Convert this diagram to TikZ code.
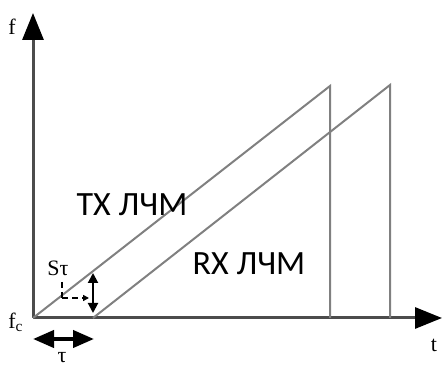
\documentclass[tikz,border=0pt]{standalone}
\usepackage{fontspec}
\setmainfont{Liberation Serif}
\newfontfamily\chirpfont{Carlito}
\usetikzlibrary{arrows.meta}
\begin{document}
\begin{tikzpicture}[x=0.5pt, y=0.5pt,
    axis/.style={line width=1.5pt, draw=black!70, -{Triangle[length=13.5pt, width=10.5pt, color=black]}},
    chirp/.style={line width=1pt, draw=black!50},
    chirplabel/.style={font=\chirpfont\fontsize{17}{20}\selectfont},
    sym/.style={font=\fontsize{11}{13}\selectfont}]

        \useasboundingbox (0,0) rectangle (442,367);

        % Draw the axes
        \coordinate (O) at (33,49);
        \coordinate (ytop) at (33,354);
        \coordinate (xend) at (442,49);
        \draw[axis] (O) -- (ytop);
        \draw[axis] (O) -- (xend);
        \node[sym] (flabel) at (12,340) {f};
        \node[sym] (tlabel) at (434,22) {t};
        \node[sym] (fclabel) at (16,45) {f\textsubscript{c}};

        % Draw the transmitted chirp (TX)
        \coordinate (txtop) at (330,281);
        \coordinate (txend) at (330,49);
        \draw[chirp] (O) -- (txtop) -- (txend);
        \node[chirplabel] (txlabel) at (132,162) {TX ЛЧМ};

        % Draw the received chirp (RX), delayed by tau
        \coordinate (rxstart) at (93,49);
        \coordinate (rxtop) at (390,282);
        \coordinate (rxend) at (390,49);
        \draw[chirp] (rxstart) -- (rxtop) -- (rxend);
        \node[chirplabel] (rxlabel) at (249,103) {RX ЛЧМ};

        % Frequency offset S tau between the chirps
        \coordinate (shtop) at (93,94);
        \coordinate (shbot) at (93,54);
        \draw[line width=1pt, {Triangle[length=5pt, width=5pt]}-{Triangle[length=5pt, width=5pt]}] (shtop) -- (shbot);
        \coordinate (dtop) at (62,85);
        \coordinate (dcorner) at (62,69);
        \coordinate (dend) at (89,69);
        \draw[densely dashed, line width=0.8pt] (dtop) -- (dcorner);
        \draw[densely dashed, line width=0.8pt, -{Triangle[length=3pt, width=3pt]}] (dcorner) -- (dend);
        \node[sym] (stlabel) at (58,99) {Sτ};

        % Time delay tau
        \coordinate (tauleft) at (33,28);
        \coordinate (tauright) at (94,28);
        \draw[line width=2pt, {Triangle[length=10.5pt, width=8.5pt]}-{Triangle[length=10.5pt, width=8.5pt]}] (tauleft) -- (tauright);
        \node[sym] (taulabel) at (62,9) {τ};

\end{tikzpicture}
\end{document}
